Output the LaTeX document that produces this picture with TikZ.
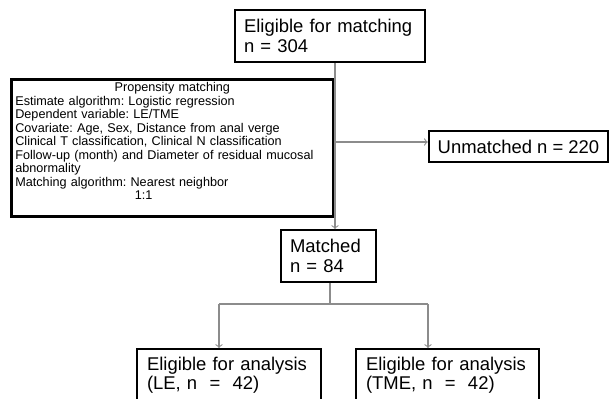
\documentclass[tikz,border=0pt]{standalone}
\usepackage{fontspec}
\setmainfont{Liberation Sans}
\frenchspacing
\begin{document}
\begin{tikzpicture}[x=0.02cm, y=-0.02cm,
    flowbox/.style={draw, line width=1pt, align=left, inner xsep=0.18cm,
      font=\fontsize{10.5}{11}\selectfont},
    line/.style={draw=black!45, line width=0.6pt},
    arrowline/.style={line, ->}]

  \clip (0,0) rectangle (609,399);

  \node[flowbox, minimum height=1.04cm, text width=3.44cm] (elig) at (330,36)
    {Eligible for matching\\n = 304};

  \node[draw, line width=1.5pt, anchor=north west, align=left, inner xsep=0.08cm,
    inner ysep=0.06cm, text width=6.28cm, font=\fontsize{7.2}{7.7}\selectfont]
    (psm) at (10,78)
    {\makebox[\linewidth]{Propensity matching}\\
     Estimate algorithm: Logistic regression\\
     Dependent variable: LE/TME\\
     Covariate: Age, Sex, Distance from anal verge\\
     Clinical T classification, Clinical N classification\\
     Follow-up (month) and Diameter of residual mucosal\\
     abnormality\\
     Matching algorithm: Nearest neighbor\\
     \hspace*{68pt}1:1\rule[-8pt]{0pt}{8pt}};

  \node[flowbox, minimum height=0.62cm, minimum width=3.54cm] (unm)
    at (518.5,146.5) {Unmatched n = 220};

  \node[flowbox, minimum height=1.04cm, text width=1.54cm] (mat) at (328.5,256)
    {Matched\\n = 84};

  \node[flowbox, minimum height=1.04cm, inner xsep=0.2cm, text width=3.28cm] (le)
    at (229,375) {Eligible for analysis\\(LE, n \ = \ 42)};

  \node[flowbox, minimum height=1.04cm, inner xsep=0.2cm, text width=3.26cm] (tme)
    at (447.5,375) {Eligible for analysis\\(TME, n \ = \ 42)};

  \coordinate (spine) at (335,142);
  \coordinate (fork) at (330,304);
  \coordinate (forkL) at (219,304);
  \coordinate (forkR) at (428,304);

  \draw[arrowline] (elig.south -| spine) -- (mat.north -| spine);
  \draw[arrowline] (spine) -- (spine -| unm.west);

  \draw[line] (mat.south -| fork) -- (fork);
  \draw[line] (forkL) -- (forkR);
  \draw[arrowline] (forkL) -- (forkL |- le.north);
  \draw[arrowline] (forkR) -- (forkR |- tme.north);

\end{tikzpicture}
\end{document}
